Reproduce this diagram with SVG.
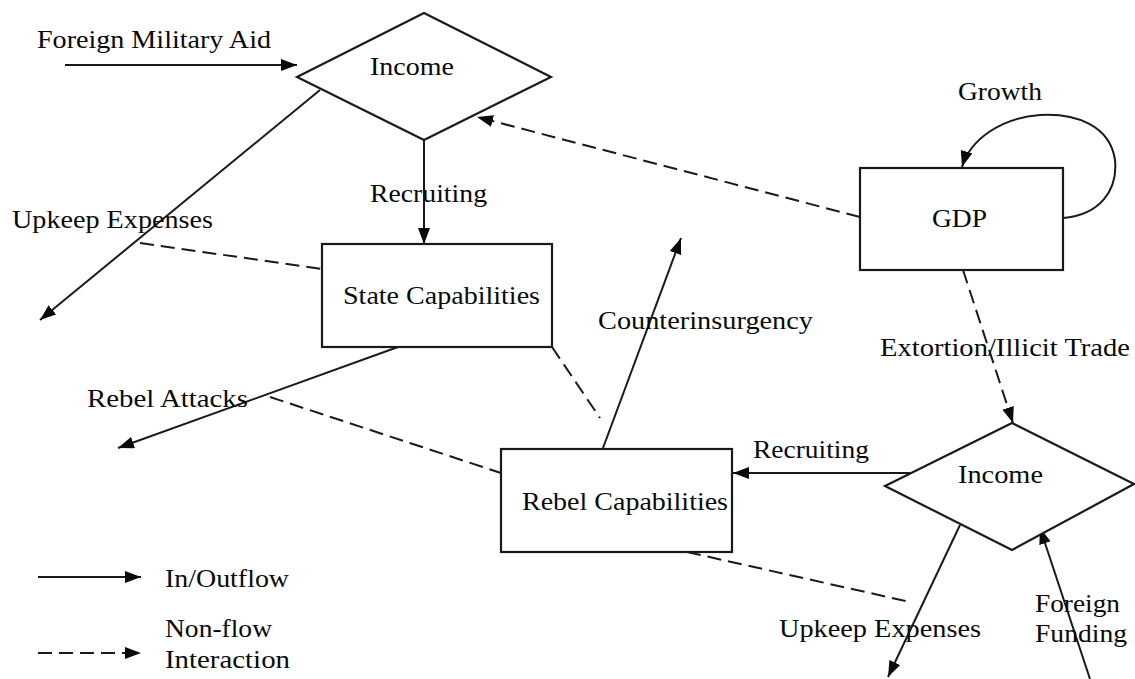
<svg xmlns="http://www.w3.org/2000/svg" width="1135" height="679" viewBox="0 0 1135 679">
<defs>
<style>
.bg{fill:#ffffff}
.node{fill:#ffffff;stroke:#1a1a1a;stroke-width:2.2}
.flow{fill:none;stroke:#1a1a1a;stroke-width:2}
.nf{fill:none;stroke:#1a1a1a;stroke-width:2;stroke-dasharray:14 7}
.t{font-family:"Liberation Serif","Times New Roman",serif;font-size:26px;fill:#0a0a0a}
</style>
<marker id="ah" viewBox="0 0 16 12" refX="16" refY="6" markerWidth="16" markerHeight="12" markerUnits="userSpaceOnUse" orient="auto">
<path d="M0,0 L16,6 L0,12 z" fill="#0a0a0a"/>
</marker>
</defs>
<rect class="bg" x="0" y="0" width="1135" height="679"/>

<g id="connectors">
<line class="flow" x1="65" y1="65" x2="297" y2="65" marker-end="url(#ah)"/>
<line class="flow" x1="424" y1="140" x2="424" y2="244" marker-end="url(#ah)"/>
<line class="flow" x1="320" y1="90" x2="40" y2="320" marker-end="url(#ah)"/>
<line class="nf" x1="140" y1="243" x2="322" y2="269"/>
<line class="flow" x1="398" y1="347" x2="118" y2="448" marker-end="url(#ah)"/>
<line class="nf" x1="270" y1="397" x2="501" y2="473"/>
<line class="nf" x1="552" y1="347" x2="600" y2="418"/>
<line class="flow" x1="603" y1="448" x2="681" y2="238" marker-end="url(#ah)"/>
<line class="nf" x1="860" y1="217" x2="477" y2="117" marker-end="url(#ah)"/>
<line class="nf" x1="963" y1="270" x2="1013" y2="423" marker-end="url(#ah)"/>
<path class="flow" d="M1063,218 C1100,215 1118,190 1115,160 C1110,125 1075,113 1040,115 C1000,118 970,140 962,167" marker-end="url(#ah)"/>
<line class="flow" x1="910" y1="473" x2="733" y2="473" marker-end="url(#ah)"/>
<line class="flow" x1="960" y1="525" x2="888" y2="677" marker-end="url(#ah)"/>
<line class="flow" x1="1090" y1="679" x2="1040" y2="528" marker-end="url(#ah)"/>
<line class="nf" x1="687" y1="552" x2="910" y2="602"/>
</g>

<g id="income-state">
<polygon class="node" points="424,13 551,77 424,140 297,77"/>
<text class="t" x="370" y="75" textLength="84" lengthAdjust="spacingAndGlyphs">Income</text>
</g>

<g id="state-capabilities">
<rect class="node" x="322" y="244" width="230" height="103"/>
<text class="t" x="343" y="304" textLength="197" lengthAdjust="spacingAndGlyphs">State Capabilities</text>
</g>

<g id="gdp">
<rect class="node" x="860" y="168" width="203" height="102"/>
<text class="t" x="932" y="227" textLength="55" lengthAdjust="spacingAndGlyphs">GDP</text>
</g>

<g id="rebel-capabilities">
<rect class="node" x="501" y="449" width="231" height="103"/>
<text class="t" x="522" y="510" textLength="206" lengthAdjust="spacingAndGlyphs">Rebel Capabilities</text>
</g>

<g id="income-rebel">
<polygon class="node" points="1012,423 1134,484 1012,550 885,486"/>
<text class="t" x="958" y="483" textLength="85" lengthAdjust="spacingAndGlyphs">Income</text>
</g>

<g id="labels">
<text class="t" x="37" y="48" textLength="234" lengthAdjust="spacingAndGlyphs">Foreign Military Aid</text>
<text class="t" x="370" y="202" textLength="117" lengthAdjust="spacingAndGlyphs">Recruiting</text>
<text class="t" x="12" y="228" textLength="201" lengthAdjust="spacingAndGlyphs">Upkeep Expenses</text>
<text class="t" x="598" y="329" textLength="215" lengthAdjust="spacingAndGlyphs">Counterinsurgency</text>
<text class="t" x="87" y="407" textLength="161" lengthAdjust="spacingAndGlyphs">Rebel Attacks</text>
<text class="t" x="958" y="100" textLength="84" lengthAdjust="spacingAndGlyphs">Growth</text>
<text class="t" x="880" y="356" textLength="250" lengthAdjust="spacingAndGlyphs">Extortion/Illicit Trade</text>
<text class="t" x="753" y="458" textLength="116" lengthAdjust="spacingAndGlyphs">Recruiting</text>
<text class="t" x="779" y="637" textLength="202" lengthAdjust="spacingAndGlyphs">Upkeep Expenses</text>
<text class="t" x="1035" y="612" textLength="85" lengthAdjust="spacingAndGlyphs">Foreign</text>
<text class="t" x="1035" y="642" textLength="92" lengthAdjust="spacingAndGlyphs">Funding</text>
</g>

<g id="legend">
<line class="flow" x1="38" y1="577" x2="141" y2="577" marker-end="url(#ah)"/>
<text class="t" x="165" y="587" textLength="124" lengthAdjust="spacingAndGlyphs">In/Outflow</text>
<line class="nf" x1="38" y1="653" x2="141" y2="653" marker-end="url(#ah)"/>
<text class="t" x="165" y="637" textLength="107" lengthAdjust="spacingAndGlyphs">Non-flow</text>
<text class="t" x="165" y="668" textLength="125" lengthAdjust="spacingAndGlyphs">Interaction</text>
</g>
</svg>
